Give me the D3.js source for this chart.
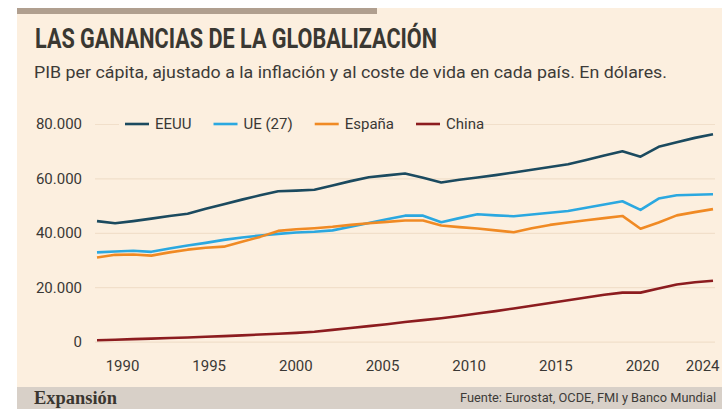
<!DOCTYPE html>
<html>
<head>
<meta charset="utf-8">
<script src="https://cdn.jsdelivr.net/npm/d3@7"></script>
<style>
  html, body { margin: 0; padding: 0; background: #fff; }
  svg { display: block; }
</style>
</head>
<body>
<div id="chart"></div>
<script>
// data (PIB per cápita, dólares PPA)
var years = d3.range(1990, 2025);
var eeuu = [44300, 43500, 44300, 45200, 46200, 47000, 48800, 50500, 52200, 53800,
            55300, 55500, 55800, 57400, 59000, 60400, 61100, 61800, 60200, 58500,
            59500, 60300, 61200, 62200, 63200, 64200, 65200, 66800, 68400, 70000,
            68000, 71600, 73300, 74900, 76200];
var ue27 = [32800, 33100, 33400, 33000, 34200, 35300, 36300, 37400, 38300, 39000,
            39600, 40100, 40400, 40900, 42200, 43600, 45000, 46300, 46300, 43900,
            45400, 46800, 46400, 46100, 46700, 47400, 48000, 49200, 50400, 51600,
            48400, 52600, 53800, 54000, 54200];
var espana = [30900, 31900, 32000, 31600, 32800, 33800, 34500, 34900, 36700, 38500,
              40700, 41300, 41700, 42200, 42900, 43500, 44000, 44500, 44500, 42700,
              42100, 41600, 40900, 40200, 41700, 42900, 43800, 44600, 45400, 46200,
              41500, 43800, 46400, 47600, 48700];
var china = [500, 700, 900, 1100, 1300, 1500, 1800, 2000, 2300, 2600,
             2900, 3200, 3600, 4300, 5000, 5700, 6400, 7200, 7900, 8600,
             9400, 10300, 11200, 12200, 13200, 14200, 15200, 16200, 17200, 18000,
             18000, 19500, 21000, 21800, 22400];
var seriesNames = ["EEUU", "UE (27)", "España", "China"];
var yTicks = [0, 20000, 40000, 60000, 80000];
var xTicks = [1990, 1995, 2000, 2005, 2010, 2015, 2020, 2024];

var colors = ["#1b4a5f", "#2ba8e0", "#f08a24", "#8c1c1f"];
var series = [eeuu, ue27, espana, china];

var width = 722, height = 409;
var bg = "#fcefdf";

var svg = d3.select("#chart")
    .append("svg")
    .attr("width", width)
    .attr("height", height)

// panel
svg.append("rect").attr("x", 17).attr("y", 8).attr("width", width - 17).attr("height", height - 8).attr("fill", bg)
svg.append("rect").attr("x", 17).attr("y", 8).attr("width", 360).attr("height", 6).attr("fill", "#b09f8f")
svg.append("rect").attr("x", 17).attr("y", 387).attr("width", width - 17).attr("height", 22).attr("fill", "#d8d0c8")

// titles
svg.append("text")
    .attr("x", 35).attr("y", 48)
    .attr("textLength", 402).attr("lengthAdjust", "spacingAndGlyphs")
    .style("font-family", "'Liberation Sans Narrow', 'Roboto', sans-serif")
    .style("font-weight", "bold")
    .style("font-size", "28px")
    .style("fill", "#3a3832")
    .text("LAS GANANCIAS DE LA GLOBALIZACIÓN")

svg.append("text")
    .attr("x", 34).attr("y", 78)
    .attr("textLength", 633).attr("lengthAdjust", "spacingAndGlyphs")
    .style("font-family", "Roboto, sans-serif")
    .style("font-size", "16.5px")
    .style("fill", "#3d3b38")
    .text("PIB per cápita, ajustado a la inflación y al coste de vida en cada país. En dólares.")

// scales
var x = d3.scaleLinear().domain([1990, 2024]).range([97, 713]);
var xLabel = d3.scaleLinear().domain([1990, 2020]).range([122, 642]);
var y = d3.scaleLinear().domain([0, 80000]).range([341.6, 124]);
var fmt = d3.formatLocale({decimal: ",", thousands: ".", grouping: [3], currency: ["", "$"]}).format(",");

// grid + y axis
var yAxis = svg.append("g")
    .attr("transform", "translate(95,0)")
    .call(d3.axisLeft(y).tickValues(yTicks).tickFormat(fmt).tickSize(-620).tickPadding(13))
yAxis.select(".domain").remove()
yAxis.selectAll(".tick line").attr("stroke", "#f1dfca").attr("stroke-width", 1.2)
yAxis.selectAll(".tick text")
    .style("font-family", "Roboto, sans-serif")
    .style("font-size", "15px")
    .style("fill", "#3a3835")

// x axis
var xAxis = svg.append("g")
    .attr("transform", "translate(0,357)")
    .call(d3.axisBottom(xLabel).tickValues(xTicks).tickFormat(d3.format("d")).tickSize(0))
xAxis.select(".domain").remove()
xAxis.selectAll(".tick text")
    .style("font-family", "Roboto, sans-serif")
    .style("font-size", "15px")
    .style("fill", "#3a3835")
    .attr("text-anchor", d => d === 2024 ? "end" : "middle")
    .attr("x", d => d === 2024 ? 719 - xLabel(2024) : 0)

// lines
var line = d3.line()
    .x((d, i) => x(years[i]))
    .y(d => y(d))

svg.selectAll("path.serie")
    .data(series)
    .enter()
    .append("path")
    .classed("serie", true)
    .attr("d", line)
    .attr("fill", "none")
    .attr("stroke", (d, i) => colors[i])
    .attr("stroke-width", 2.6)
    .attr("stroke-linejoin", "round")

// legend
svg.append("rect").attr("x", 119).attr("y", 114).attr("width", 350).attr("height", 20).attr("fill", bg)
var legend = svg.append("g").attr("transform", "translate(125,124)")
var lx = 0;
seriesNames.forEach((name, i) => {
    var item = legend.append("g").attr("transform", "translate(" + lx + ",0)")
    item.append("line")
        .attr("x1", 0).attr("x2", 24)
        .attr("stroke", colors[i]).attr("stroke-width", 2.6)
    var t = item.append("text")
        .attr("x", 30).attr("dy", "0.35em")
        .style("font-family", "Roboto, sans-serif")
        .style("font-size", "15px")
        .style("fill", "#3a3835")
        .text(name)
    lx += 30 + t.node().getComputedTextLength() + 22;
})

// footer
svg.append("text")
    .attr("x", 34).attr("y", 404)
    .attr("textLength", 83).attr("lengthAdjust", "spacingAndGlyphs")
    .style("font-family", "'Liberation Serif', 'DejaVu Serif', serif")
    .style("font-weight", "bold")
    .style("font-size", "18px")
    .style("fill", "#3a3630")
    .text("Expansión")

svg.append("text")
    .attr("x", 716).attr("y", 402)
    .attr("text-anchor", "end")
    .style("font-family", "Roboto, sans-serif")
    .style("font-size", "12.8px")
    .style("fill", "#3d3b38")
    .text("Fuente: Eurostat, OCDE, FMI y Banco Mundial")
</script>
</body>
</html>
